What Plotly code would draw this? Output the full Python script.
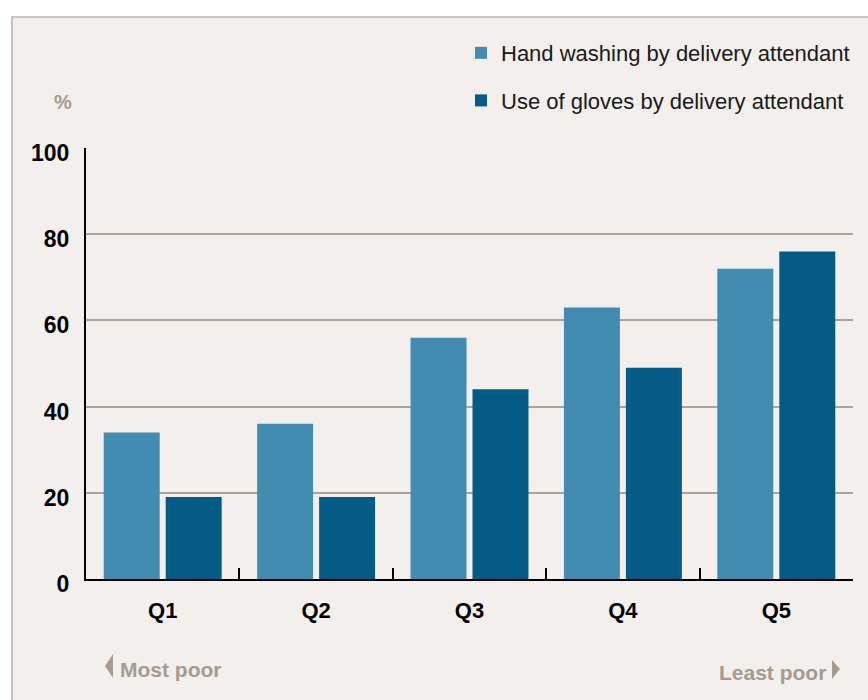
import plotly.graph_objects as go

categories = ["Q1", "Q2", "Q3", "Q4", "Q5"]
hand_washing = [34, 36, 56, 63, 72]
use_of_gloves = [19, 19, 44, 49, 76]
series_names = ["Hand washing by delivery attendant", "Use of gloves by delivery attendant"]
y_ticks = [0, 20, 40, 60, 80, 100]

W, H = 868, 700
L, R, T, B = 86, 853, 148, 579


def px(x):
    return (x - L) / (R - L)


def py(y):
    return (B - y) / (B - T)


FONT = "Liberation Sans, Arial, sans-serif"
GRAY = "#a69b91"

fig = go.Figure()
fig.add_trace(go.Bar(x=categories, y=hand_washing, name=series_names[0],
                     marker=dict(color="#428bb1", line=dict(width=0)), legendgroup="a"))
fig.add_trace(go.Bar(x=categories, y=use_of_gloves, name=series_names[1],
                     marker=dict(color="#045b85", line=dict(width=0)), legendgroup="b"))

shapes = [
    dict(type="rect", xref="paper", yref="paper", x0=px(12), x1=px(900), y0=py(17), y1=py(760),
         fillcolor="#f2efec", line=dict(color="#bcb3aa", width=1.5), layer="below"),
    dict(type="path", xref="paper", yref="paper", layer="above",
         path=f"M{px(105)},{py(666)} L{px(113)},{py(654)} L{px(113)},{py(678)} Z",
         fillcolor=GRAY, line=dict(width=0)),
    dict(type="path", xref="paper", yref="paper", layer="above",
         path=f"M{px(840)},{py(669)} L{px(832)},{py(660)} L{px(832)},{py(679)} Z",
         fillcolor=GRAY, line=dict(width=0)),
]

annotations = [
    dict(text="%", xref="paper", yref="paper", x=px(63), y=py(102), xanchor="center", yanchor="middle",
         showarrow=False, font=dict(family=FONT, size=20, color=GRAY, weight="bold")),
    dict(text="Most poor", xref="paper", yref="paper", x=px(118), y=py(669), xanchor="left", yanchor="middle",
         showarrow=False, font=dict(family=FONT, size=21, color=GRAY, weight="bold")),
    dict(text="Least poor", xref="paper", yref="paper", x=px(828), y=py(672), xanchor="right", yanchor="middle",
         showarrow=False, font=dict(family=FONT, size=21, color=GRAY, weight="bold")),
]

fig.update_layout(
    width=W, height=H,
    margin=dict(l=L, r=W - R, t=T, b=H - B, pad=0),
    paper_bgcolor="white",
    plot_bgcolor="rgba(0,0,0,0)",
    barmode="group",
    bargap=0.192,
    bargroupgap=0.097,
    shapes=shapes,
    annotations=annotations,
    showlegend=True,
    legend=dict(x=px(461), y=py(32), xanchor="left", yanchor="top",
                bgcolor="rgba(0,0,0,0)", traceorder="grouped", tracegroupgap=16,
                font=dict(family=FONT, size=22, color="#1a1a1a")),
    font=dict(family=FONT),
)

fig.update_xaxes(
    type="category", showline=True, linecolor="black", linewidth=2,
    ticks="inside", tickson="boundaries", ticklen=11, tickwidth=2, tickcolor="black",
    showgrid=False, ticklabelstandoff=11,
    tickfont=dict(family=FONT, size=22, color="black", weight="bold"),
)
fig.update_yaxes(
    range=[0, 100], tickvals=y_ticks, showline=True, linecolor="black", linewidth=2,
    showgrid=True, gridcolor="#ada398", gridwidth=1.5, ticks="", zeroline=False,
    ticklabelstandoff=10, ticklabelshift=5,
    tickfont=dict(family=FONT, size=23, color="black", weight="bold"),
)

fig.write_html("out.html", post_script="document.body.style.margin='0';",
               config=dict(displayModeBar=False))
